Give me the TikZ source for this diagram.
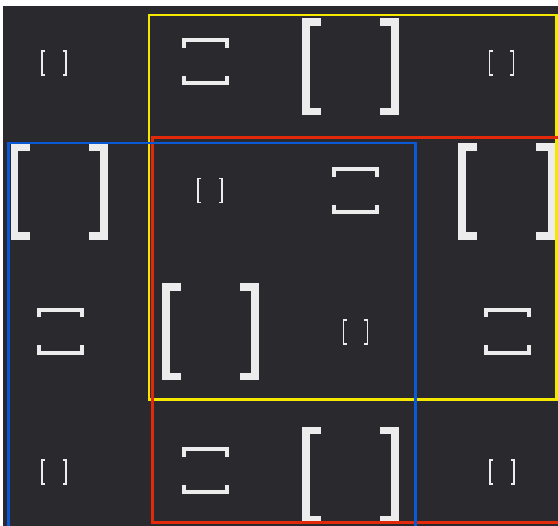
\documentclass[tikz,border=0pt]{standalone}
\definecolor{bg}{HTML}{2A2A2E}
\definecolor{glyphc}{HTML}{ECECEC}
\definecolor{yel}{HTML}{F5E800}
\definecolor{redl}{HTML}{E22A0A}
\definecolor{blu}{HTML}{0A5AD8}
\tikzset{
  glyph/.style={draw=glyphc, line cap=butt, line join=miter},
  frame/.style={line width=2.8pt}
}
% #1 cx, #2 cy, #3 half size, #4 stroke, #5 arm, #6 rotation
\newcommand\bpair[6]{%
  \begin{scope}[shift={(#1,#2)}, rotate=#6]
    \draw[glyph, line width=#4pt] ({-#3+#5},{-#3+#4/2}) -- ({-#3+#4/2},{-#3+#4/2}) -- ({-#3+#4/2},{#3-#4/2}) -- ({-#3+#5},{#3-#4/2});
    \draw[glyph, line width=#4pt] ({#3-#5},{-#3+#4/2}) -- ({#3-#4/2},{-#3+#4/2}) -- ({#3-#4/2},{#3-#4/2}) -- ({#3-#5},{#3-#4/2});
  \end{scope}}
\newcommand\smallpair[2]{\bpair{#1}{#2}{12.8}{1.6}{4}{0}}
\newcommand\medpair[2]{\bpair{#1}{#2}{23.5}{4}{9.5}{90}}
\newcommand\bigpair[2]{\bpair{#1}{#2}{48.5}{7.8}{19}{0}}
\begin{document}
\begin{tikzpicture}[x=1pt,y=-1pt]
  \useasboundingbox (0,0) rectangle (558,526);
  \fill[white] (0,0) rectangle (558,526);
  \fill[bg] (3,6) rectangle (558,526);
  \begin{scope}
    \clip (3,6) rectangle (558,526);
    % row 1
    \smallpair{53.7}{63.3}
    \medpair{205}{62}
    \bigpair{350.3}{67}
    \smallpair{501.5}{63.3}
    % row 2
    \bigpair{59}{191.7}
    \smallpair{210.2}{190.5}
    \medpair{355}{190.8}
    \bigpair{506.8}{191.8}
    % row 3
    \medpair{60}{331.3}
    \bigpair{210.5}{332}
    \smallpair{355.5}{331.8}
    \medpair{507.7}{331.3}
    % row 4
    \smallpair{53.7}{471.8}
    \medpair{205}{470.8}
    \bigpair{350.3}{475.2}
    \smallpair{502}{472}
    % frames
    \draw[frame, draw=yel] (149,15) rectangle (556.5,399.5);
    \draw[frame, draw=redl] (152.8,137.5) rectangle (565,522.8);
    \draw[frame, draw=blu] (8.7,143) rectangle (415.8,535);
  \end{scope}
\end{tikzpicture}
\end{document}
